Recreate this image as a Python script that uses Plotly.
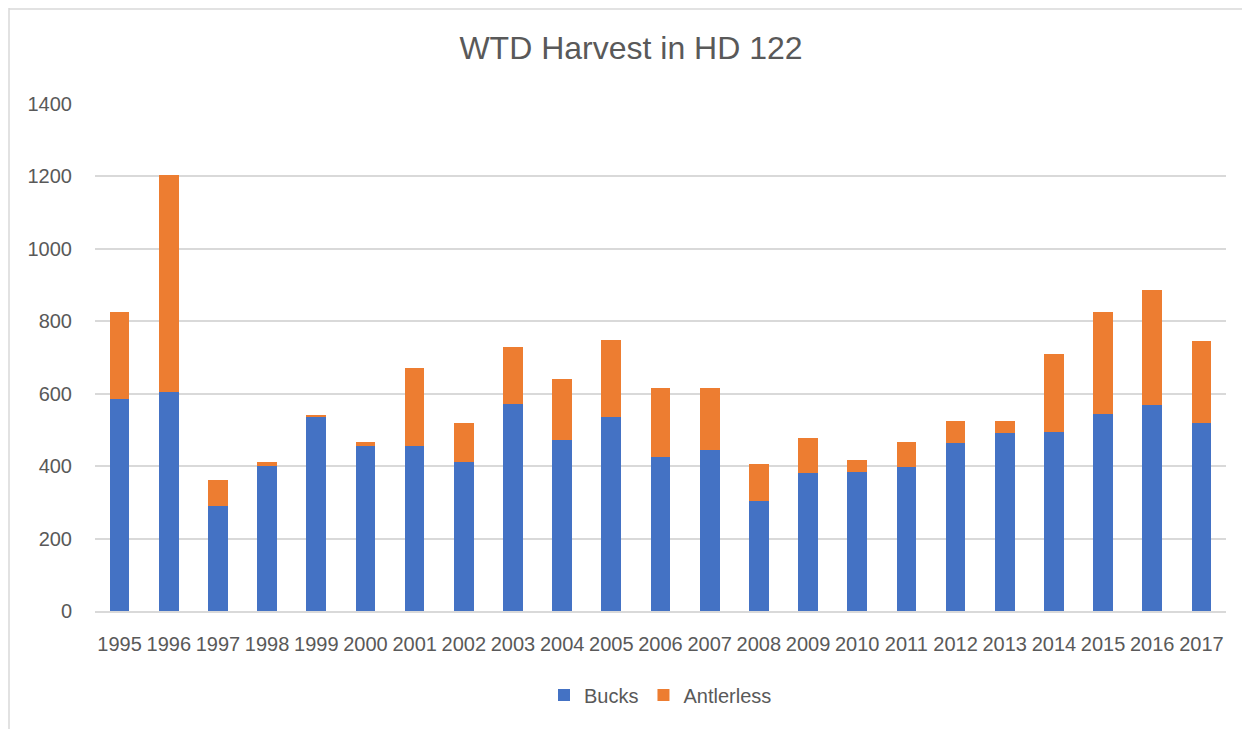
import plotly.graph_objects as go

years = [str(y) for y in range(1995, 2018)]
totals = [826, 1205, 363, 412, 542, 466, 672, 518, 729, 642, 749, 617, 616,
          406, 479, 417, 466, 526, 524, 711, 826, 887, 745]
bucks = [586, 604, 290, 400, 535, 455, 455, 412, 572, 472, 536, 425, 444,
         305, 381, 384, 397, 463, 491, 495, 544, 568, 519]
antlerless = [t - b for t, b in zip(totals, bucks)]

TEXT = "#595959"
FONT = "Liberation Sans"

# page has an 8px body margin; figure coordinates are offset accordingly
W, H = 1242, 721
L, T, R, B = 87, 96, 1218, 603  # plot area edges in figure px

fig = go.Figure()
fig.add_trace(go.Bar(x=years, y=bucks, name="Bucks", marker_color="#4472C4",
                     marker_line_width=0))
fig.add_trace(go.Bar(x=years, y=antlerless, name="Antlerless", marker_color="#ED7D31",
                     marker_line_width=0))

pw, ph = R - L, B - T

def px_x(v):
    return (v - L) / pw

def px_y(v):
    return (B - v) / ph

border = dict(color="#D9D9D9", width=1.5)

fig.update_layout(
    width=W, height=H,
    barmode="stack", bargap=0.6,
    paper_bgcolor="white", plot_bgcolor="white",
    margin=dict(l=L, r=W - R, t=T, b=H - B),
    font=dict(family=FONT, color=TEXT, size=20),
    title=dict(text="WTD Harvest in HD 122", x=623 / W, xanchor="center",
               y=1 - 40 / H, yanchor="middle",
               font=dict(family=FONT, size=32, color=TEXT)),
    legend=dict(orientation="h", x=0.5, xanchor="center", y=px_y(687),
                yanchor="middle", font=dict(size=20, color=TEXT),
                traceorder="normal"),
    xaxis=dict(type="category", tickangle=0, showgrid=False,
               showline=True, linecolor="#D9D9D9", linewidth=2,
               ticks="", ticklabelstandoff=14,
               tickfont=dict(size=20, color=TEXT)),
    yaxis=dict(range=[0, 1400], dtick=200, showgrid=True, gridcolor="#D9D9D9",
               gridwidth=1.5, zeroline=False, showline=False, ticks="",
               ticklabelstandoff=22, tickfont=dict(size=20, color=TEXT)),
    shapes=[
        dict(type="line", xref="paper", yref="paper", x0=px_x(1), x1=px_x(1),
             y0=px_y(0), y1=px_y(H), line=border, layer="below"),
        dict(type="line", xref="paper", yref="paper", x0=px_x(1), x1=px_x(1239),
             y0=px_y(1), y1=px_y(1), line=border, layer="below"),
        dict(type="line", xref="paper", yref="paper", x0=px_x(1239), x1=px_x(1239),
             y0=px_y(0), y1=px_y(H), line=border, layer="below"),
    ],
)

fig.write_html("out.html")
